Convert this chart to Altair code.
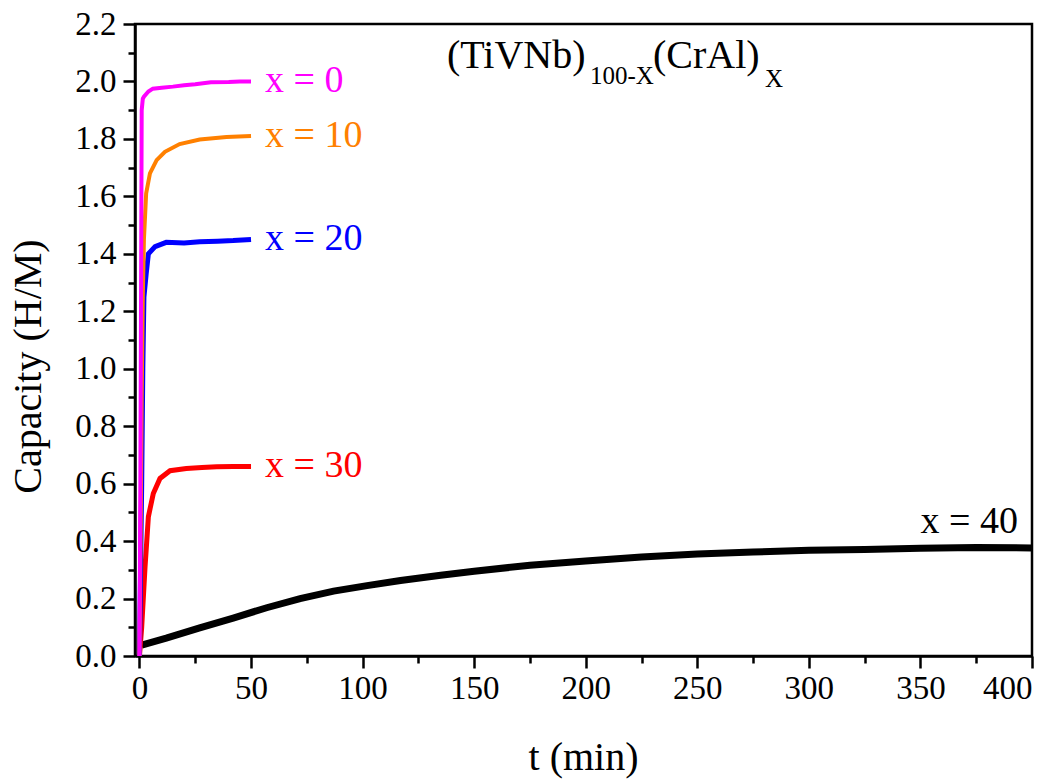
import altair as alt
import pandas as pd

# ---- data ----
t_x0 = [0, 0.4, 0.8, 1.0, 1.5, 2, 4, 6, 10, 15, 20, 25, 32, 40, 45, 50]
c_x0 = [0, 0.6, 1.45, 1.90, 1.94, 1.947, 1.965, 1.975, 1.978, 1.982, 1.987, 1.99, 1.997, 1.998, 2.0, 2.0]
t_x10 = [0, 0.5, 1.0, 1.5, 2, 3, 4.7, 7.7, 11.4, 18, 27, 39, 50]
c_x10 = [0, 0.4, 0.9, 1.25, 1.45, 1.61, 1.68, 1.726, 1.755, 1.782, 1.798, 1.807, 1.81]
t_x20 = [0, 1, 1.5, 2, 3, 4, 7, 12, 20, 27, 35, 42, 50]
c_x20 = [0, 0.6, 1.0, 1.25, 1.33, 1.40, 1.425, 1.44, 1.438, 1.442, 1.444, 1.446, 1.45]
t_x30 = [0, 1.0, 2.5, 4, 6.2, 9.2, 13.7, 21, 28, 34.6, 42, 50]
c_x30 = [0, 0.1, 0.31, 0.485, 0.566, 0.618, 0.645, 0.653, 0.656, 0.659, 0.66, 0.66]
t_x40 = [1, 12, 27, 42, 57, 72, 87, 102, 117, 135, 150, 175, 200, 225, 250, 275, 300, 325, 350, 375, 400]
c_x40 = [0.038, 0.062, 0.098, 0.132, 0.168, 0.2, 0.226, 0.245, 0.263, 0.281, 0.295, 0.316, 0.331,
         0.345, 0.355, 0.362, 0.368, 0.371, 0.375, 0.378, 0.376]

series_names = ["x = 0", "x = 10", "x = 20", "x = 30", "x = 40"]
series_colors = ["#FF00FF", "#FF8000", "#0000FF", "#FF0000", "#000000"]

x_major = [0, 50, 100, 150, 200, 250, 300, 350, 400]
x_minor = [25, 75, 125, 175, 225, 275, 325, 375]
y_major = [0.0, 0.2, 0.4, 0.6, 0.8, 1.0, 1.2, 1.4, 1.6, 1.8, 2.0, 2.2]
y_minor = [0.1, 0.3, 0.5, 0.7, 0.9, 1.1, 1.3, 1.5, 1.7, 1.9, 2.1]

ts = [t_x0, t_x10, t_x20, t_x30, t_x40]
cs = [c_x0, c_x10, c_x20, c_x30, c_x40]
rows = []
for name, tt, cc in zip(series_names, ts, cs):
    for i, (a, b) in enumerate(zip(tt, cc)):
        rows.append({"t": a, "cap": b, "series": name, "i": i})
df = pd.DataFrame(rows)

lab = pd.DataFrame({
    "t": [tt[-1] for tt in ts],
    "cap": [cc[-1] for cc in cs],
    "series": series_names,
})

FONT = "Liberation Serif"
xscale = alt.Scale(domain=[-2, 400], nice=False, zero=False)
yscale = alt.Scale(domain=[0, 2.2], nice=False)

common = dict(domainColor="black", domainWidth=2.5, tickColor="black", tickWidth=2.5,
              grid=False, labelFont=FONT, labelFontSize=33, labelColor="black")

x_main = alt.X("t:Q", scale=xscale, axis=alt.Axis(
    values=x_major, orient="bottom", tickSize=12, labelPadding=4, format="d",
    title="t (min)", titleFont=FONT, titleFontSize=40, titleFontWeight="normal",
    titleColor="black", titleX=448, titleY=113, titleBaseline="alphabetic", **common))
y_main = alt.Y("cap:Q", scale=yscale, axis=alt.Axis(
    values=y_major, orient="left", tickSize=12, labelPadding=7, format=".1f",
    title="Capacity (H/M)", titleFont=FONT, titleFontSize=40, titleFontWeight="normal",
    titleColor="black", titleX=-87, titleY=342, titleBaseline="bottom", titleAngle=270,
    **common))

x_min = alt.X("t:Q", scale=xscale, axis=alt.Axis(
    values=x_minor, orient="bottom", tickSize=7, labels=False, domain=False, title=None,
    tickColor="black", tickWidth=2.5, grid=False))
y_min = alt.Y("cap:Q", scale=yscale, axis=alt.Axis(
    values=y_minor, orient="left", tickSize=7, labels=False, domain=False, title=None,
    tickColor="black", tickWidth=2.5, grid=False))

base = alt.Chart(df).encode(x=x_main, y=y_main, order="i:Q")
widths = {"x = 0": 4, "x = 10": 4, "x = 20": 5, "x = 30": 5, "x = 40": 7}
line_layers = []
for name, col in reversed(list(zip(series_names, series_colors))):
    line_layers.append(
        base.transform_filter(alt.datum.series == name)
        .mark_line(color=col, strokeWidth=widths[name], clip=True)
    )

color_enc = alt.Color("series:N", scale=alt.Scale(domain=series_names, range=series_colors), legend=None)

labels_a = alt.Chart(lab).transform_filter(alt.datum.series != "x = 40").mark_text(
    align="left", baseline="middle", dx=14, font=FONT, fontSize=38
).encode(x=x_main, y=y_main, text="series:N", color=color_enc)

inner = alt.layer(*line_layers, labels_a)

labels_b = alt.Chart(lab).transform_filter(alt.datum.series == "x = 40").mark_text(
    align="right", baseline="middle", dx=-14, dy=-26, font=FONT, fontSize=38
).encode(x=x_min, y=y_min, text="series:N", color=color_enc)

one = pd.DataFrame({"k": [0]})
def txt(s, x, y, size):
    return alt.Chart(one).mark_text(
        text=s, align="left", baseline="alphabetic", font=FONT, fontSize=size, color="black"
    ).encode(x=alt.value(x), y=alt.value(y))

title_parts = [
    txt("(TiVNb)", 447 - 135, 68 - 24, 40),
    txt("100-X", 590 - 135, 84 - 24, 25),
    txt("(CrAl)", 653 - 135, 68 - 24, 40),
    txt("X", 765 - 135, 87 - 24, 25),
]

chart = alt.layer(inner, labels_b, *title_parts).resolve_axis(
    x="independent", y="independent"
).properties(
    width=897, height=632,
    padding={"left": 135, "top": 24, "right": 32, "bottom": 124},
    autosize=alt.AutoSizeParams(type="none"),
    background="white",
).configure_view(stroke="black", strokeWidth=2.5)

chart.save("out.html", embed_options={"renderer": "svg", "actions": False})
